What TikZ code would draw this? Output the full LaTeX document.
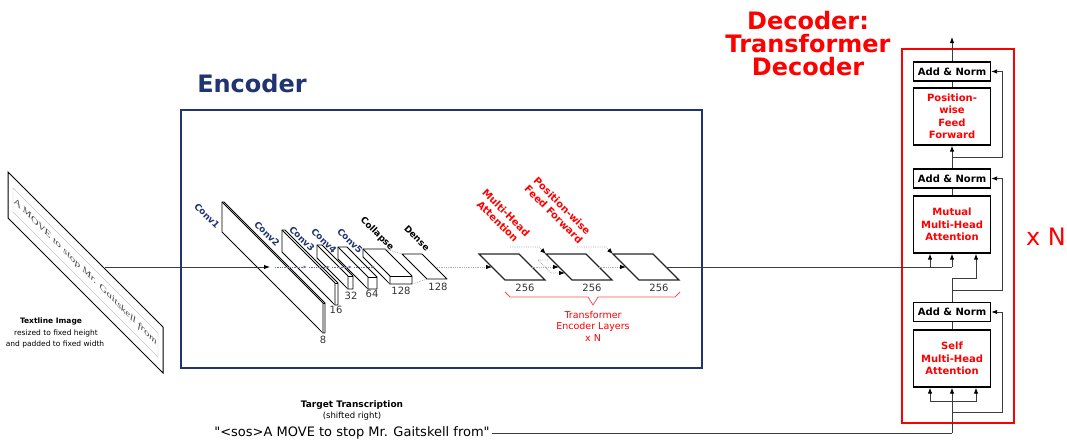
\documentclass[tikz,border=0pt]{standalone}
\usepackage{fontspec}
\setmainfont{DejaVu Sans}
\newfontfamily\handfont{Liberation Serif}
\usetikzlibrary{arrows.meta}

\definecolor{encblue}{RGB}{31,52,112}
\definecolor{lineg}{RGB}{60,60,60}
\definecolor{bracered}{RGB}{255,80,80}

\newcommand{\fsz}[2]{\fontsize{#1}{#2}\selectfont}
% 3d block: x0, y0, height, slant width, depth
\newcommand{\cnnbox}[5]{%
  \filldraw[cnn] (#1,#2) -- ++(#5,0) -- ++(#4,#4) -- ++(0,#3) -- ++(-#5,0) -- ++(-#4,-#4) -- cycle;
  \draw[cnn] (#1,#2) -- ++(#4,#4) -- ++(0,#3);
  \draw[cnn] (#1,#2) ++(#4,#4) -- ++(#5,0);
}

\begin{document}
\begin{tikzpicture}[x=1pt, y=-1pt,
    conn/.style={draw=lineg, line width=0.9pt},
    tip/.style={-{Latex[length=6pt,width=4.5pt,color=black]}},
    smalltip/.style={-{Latex[length=3.5pt,width=3pt]}},
    ghost/.style={draw=gray!65, line width=0.8pt, densely dotted},
    cnn/.style={draw=black, line width=0.9pt, fill=white, line join=round},
    enclayer/.style={draw=black!85, line width=1.1pt, fill=white},
    dimlbl/.style={font=\fsz{10}{12}, text=black!80},
    convlbl/.style={rotate=-45, font=\bfseries\fsz{9}{11}, text=encblue},
    opslbl/.style={rotate=-45, font=\bfseries\fsz{9}{11}, text=black},
    redlbl/.style={rotate=-45, align=center, font=\bfseries\fsz{10}{12}, text=red},
    annorm/.style={draw=black, line width=1.3pt, fill=white, minimum width=77pt, minimum height=19pt, inner sep=0pt, font=\bfseries\fsz{10}{12}},
    sublayer/.style={draw=black, line width=1.3pt, fill=white, minimum width=77pt, minimum height=57pt, inner sep=0pt, align=center, text=red, font=\bfseries\fsz{10}{12.5}},
  ]
  \useasboundingbox (0,0) rectangle (1067,439);

  %====================== input image ======================
  \filldraw[draw=black, fill=white, line width=1pt] (8,172) -- (8,218) -- (163,373) -- (163,327) -- cycle;
  \draw[gray!45, line width=0.4pt] (13,188) -- (13,212) -- (158,357) -- (158,333) -- cycle;
  \node[yslant=-1, font=\handfont\itshape\fsz{10}{10}, text=gray!55!black] (hwline) at (85.5,272) {A MOVE to stop Mr. Gaitskell from};
  \node[font=\bfseries\fsz{7.5}{8}] (imgtitle) at (51,321) {Textline Image};
  \node[font=\fsz{7.5}{8}] (imgsub1) at (56,333) {resized to fixed height};
  \node[font=\fsz{7.5}{8}] (imgsub2) at (55,344) {and padded to fixed width};
  \coordinate (imgout) at (105,267);

  %====================== encoder ======================
  \node[draw=encblue, line width=1.3pt, minimum width=521pt, minimum height=258pt, inner sep=0pt] (encbox) at (441.5,239) {};
  \node[font=\bfseries\fsz{24}{28}, text=encblue] (enctitle) at (252,84) {Encoder};

  \cnnbox{222}{202}{30}{101}{2}
  \cnnbox{282}{230}{22}{53}{3}
  \cnnbox{317}{245}{13}{31}{5}
  \cnnbox{338}{247}{12}{30}{9}
  \cnnbox{363}{249}{8}{27}{22}
  \filldraw[cnn] (402,254) -- (422,254) -- (447,279) -- (427,279) -- cycle;
  \draw[ghost] (385,249) -- (402,254);
  \draw[ghost] (412,284) -- (427,279);

  \node[dimlbl] (d8)   at (323,340) {8};
  \node[dimlbl] (d16)  at (336,310) {16};
  \node[dimlbl] (d32)  at (351,296) {32};
  \node[dimlbl] (d64)  at (372,294) {64};
  \node[dimlbl] (d128) at (401,291) {128};
  \node[dimlbl] (d128b) at (438,287) {128};

  \node[convlbl] (lconv1) at (207,216) {Conv1};
  \node[convlbl] (lconv2) at (267,234) {Conv2};
  \node[convlbl] (lconv3) at (302,239) {Conv3};
  \node[convlbl] (lconv4) at (324,241) {Conv4};
  \node[convlbl] (lconv5) at (350,241) {Conv5};
  \node[opslbl] (lcoll) at (377,234) {Collapse};
  \node[opslbl] (ldense) at (417,238) {Dense};

  \coordinate (c1in) at (270,267);
  \draw[conn, tip] (imgout) -- (c1in);
  \foreach \a/\b in {275/307, 309/330, 332/352, 354/375}
    \draw[encblue!70, line width=0.7pt, densely dotted, smalltip] (\a,267) -- (\b,267);

  % transformer encoder layers
  \foreach \x [count=\i] in {479,546,613} {
    \draw[enclayer] (\x,254) -- ++(40,0) -- ++(26,26) -- ++(-40,0) -- cycle;
    \node[dimlbl] (d256-\i) at (\x+46,288) {256};
  }
  \draw[ghost, tip] (437,267) -- (492,267);
  \draw[ghost, tip] (532,267) -- (559,267);
  \draw[ghost, tip] (599,267) -- (626,267);
  \draw[ghost, tip] (510,247) -- (539,247) -- (546,254);
  \draw[ghost, tip] (577,247) -- (606,247) -- (613,254);
  \draw[ghost, tip] (548,260) -- (538,260) -- (551,273) -- (565,273);

  \node[redlbl] (lmha) at (502,217) {Multi-Head\\Attention};
  \node[redlbl] (lpff) at (558,210) {Position-wise\\Feed Forward};

  \draw[bracered, line width=0.8pt] (505,292) -- (510,297) -- (588,297) -- (593,305) -- (598,297) -- (675,297) -- (680,292);
  \node[align=center, text=red, font=\fsz{9.5}{11.5}] (enclayers) at (593,326) {Transformer\\Encoder Layers\\x N};
  \coordinate (encout) at (666,267);

  %====================== decoder ======================
  \node[draw=red, line width=1.5pt, minimum width=112pt, minimum height=374pt, inner sep=0pt] (decbox) at (958,236) {};
  \node[align=center, text=red, font=\bfseries\fsz{24}{23}] (dectitle) at (808,44) {Decoder:\\Transformer\\Decoder};
  \node[text=red, font=\fsz{24}{28}] (xn) at (1046,237) {x N};

  \node[annorm] (an3) at (952,71.5) {Add \& Norm};
  \node[sublayer] (ff) at (952,116.5) {Position-\\wise\\Feed\\Forward};
  \node[annorm] (an2) at (952,178.5) {Add \& Norm};
  \node[sublayer] (mha2) at (952,224.5) {Mutual\\Multi-Head\\Attention};
  \node[annorm] (an1) at (952,312) {Add \& Norm};
  \node[sublayer] (mha1) at (952,358.5) {Self\\Multi-Head\\Attention};

  \coordinate (out) at (952,37);
  \coordinate (r3) at (952,157);
  \coordinate (r2) at (952,290);
  \coordinate (r1) at (952,412);
  \coordinate (kv) at (976,278);
  \coordinate (m1) at (930,267);
  \coordinate (m2) at (952,267);
  \coordinate (s0) at (952,401);
  \coordinate (s1) at (930,401);
  \coordinate (s3) at (976,401);
  \coordinate (tgtin) at (952,433);

  \draw[conn, tip] (an3.north) -- (out);
  \draw[conn] (ff.north) -- (an3.south);
  \draw[conn, tip] (an2.north) -- (ff.south);
  \draw[conn, tip] (r3) -- ++(50,0) |- (an3.east);
  \draw[conn] (mha2.north) -- (an2.south);
  \draw[conn, tip] (r2) -- ++(50,0) |- (an2.east);
  \draw[conn, tip] (an1.north) |- (kv) -- (kv |- mha2.south);
  \draw[conn] (encout) -- (m2);
  \draw[conn, tip] (m1) -- (m1 |- mha2.south);
  \draw[conn, tip] (m2) -- (m2 |- mha2.south);
  \draw[conn] (mha1.north) -- (an1.south);
  \draw[conn, tip] (r1) -- ++(50,0) |- (an1.east);
  \draw[conn, tip] (tgtin) -- (mha1.south);
  \draw[conn, tip] (s0) -- (s1) -- (s1 |- mha1.south);
  \draw[conn, tip] (s0) -- (s3) -- (s3 |- mha1.south);

  %====================== target ======================
  \node[font=\bfseries\fsz{9}{11}] (tgthead) at (352,405) {Target Transcription};
  \node[font=\fsz{8.5}{10}] (tgtsub) at (352,416) {(shifted right)};
  \node[font=\fsz{13}{15}, inner sep=2pt] (tgt) at (352,433) {\textquotedbl<sos>A MOVE to stop Mr. Gaitskell from\textquotedbl};
  \draw[conn] (tgt.east) -- (tgtin);
\end{tikzpicture}
\end{document}
